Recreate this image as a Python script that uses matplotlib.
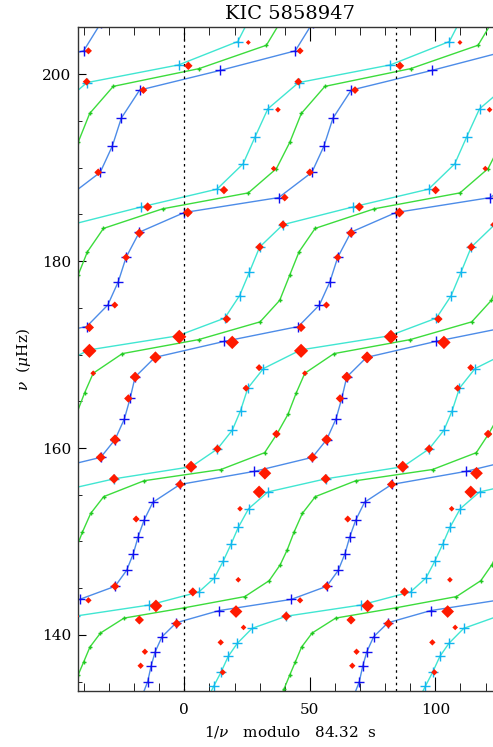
import numpy as np
import matplotlib
matplotlib.use("Agg")
from matplotlib import pyplot as plt
from matplotlib.ticker import MultipleLocator

period = 84.32

# model mode sequences: frequency (muHz) and 1/nu modulo period (s)
nu_blue = [133.4, 135.0, 136.7, 138.2, 139.8, 141.3, 142.6, 143.8, 145.2, 146.9,
           148.7, 150.5, 152.3, 154.2, 156.1, 157.5, 159.0, 160.9, 163.1, 165.3,
           167.6, 169.7, 171.4, 173.0, 175.3, 177.8, 180.4, 183.1, 185.2, 186.8,
           189.5, 192.3, 195.3, 198.3, 200.4, 202.5, 205.5]
x_blue = [-16.9, -14.6, -13.2, -11.6, -8.9, -3.2, 13.8, 42.6, -27.6, -23.0,
          -20.3, -18.4, -16.0, -12.5, -1.7, 27.9, -33.3, -27.6, -23.9, -21.6,
          -19.6, -11.7, 15.8, -38.9, -30.5, -26.3, -23.2, -17.9, 0.0, 37.6,
          -33.5, -28.7, -25.1, -17.8, 14.2, 44.2, -33.2]

nu_cyan = [133.0, 134.5, 136.0, 137.7, 139.1, 140.7, 142.0, 143.2, 144.6, 146.1,
           147.9, 149.7, 151.5, 153.5, 155.3, 156.7, 158.0, 159.9, 161.9, 164.0,
           166.4, 168.5, 170.5, 172.0, 173.9, 176.3, 178.8, 181.5, 183.9, 185.8,
           187.7, 190.4, 193.3, 196.3, 199.1, 201.0, 203.5, 205.6]
x_cyan = [8.9, 11.7, 14.6, 17.5, 21.1, 27.0, 40.6, -13.9, 5.8, 12.0,
          15.5, 18.6, 21.5, 25.6, 33.3, -28.0, 2.8, 13.2, 19.1, 22.4,
          25.3, 31.5, -37.9, -2.7, 16.1, 22.0, 25.9, 30.0, 39.3, -17.1,
          13.0, 23.4, 28.2, 33.3, -38.8, -2.2, 21.3, 25.3]

nu_green = [132.6, 134.2, 135.7, 137.1, 138.7, 140.2, 141.8, 142.9, 144.1, 145.8,
            147.5, 149.1, 151.0, 153.0, 154.8, 156.5, 157.7, 159.5, 161.5, 163.6,
            165.9, 168.0, 170.1, 171.6, 173.5, 175.8, 178.5, 181.0, 183.5, 185.6,
            187.3, 189.9, 192.7, 195.8, 198.7, 200.6, 203.1, 205.6]
x_green = [37.0, 39.7, 42.0, -40.1, -37.6, -33.4, -24.0, 0.0, 24.1, 33.8,
           38.2, 41.0, -40.6, -37.3, -32.1, -16.0, 14.6, 32.0, 36.9, 41.3,
           44.6, -36.3, -24.7, 5.7, 30.2, 38.0, 42.0, -38.6, -32.2, -8.6,
           25.5, 36.7, 42.0, -37.7, -28.3, 5.9, 32.7, 38.3]

# observed modes
nu_obs = [202.5, 203.4, 200.9, 199.2, 198.3, 196.2, 189.9, 189.5, 187.6, 186.8,
          185.8, 185.2, 183.9, 183.0, 181.5, 180.4, 175.3, 173.8, 172.9, 171.9,
          171.3, 170.4, 169.7, 168.6, 168.0, 167.6, 166.4, 165.3, 161.5, 160.9,
          159.9, 159.0, 158.0, 157.3, 156.7, 156.1, 155.3, 153.5, 152.4, 145.9,
          145.2, 144.6, 143.7, 143.1, 142.5, 142.0, 141.6, 141.2, 140.8, 139.2,
          138.2, 136.7, 136.0]
x_obs = [-38.2, 25.5, 1.6, -38.9, -16.3, 37.3, 35.6, -34.3, 15.8, 40.0,
         -14.6, 1.4, 39.3, -17.9, 30.0, -23.2, -27.7, 16.9, -37.8, -2.0,
         19.1, -37.8, -11.5, 29.8, -36.3, -19.6, 24.6, -22.3, 36.7, -27.6,
         13.2, -33.3, 2.7, 32.1, -28.0, -1.7, 29.8, 22.2, -19.2, 21.5,
         -27.6, 3.4, -38.2, -11.3, 20.6, 40.6, -17.9, -3.0, 23.6, 14.5,
         -15.7, -17.4, 15.3]
amp_obs = [5, 3.5, 6, 5.5, 5.5, 4, 4, 5.5, 6, 5.5,
           6.5, 7, 6, 6.5, 6, 5.5, 5, 6, 6.5, 10,
           9.5, 10, 8.5, 5, 4, 7.5, 5, 6, 6, 7.5,
           6, 7, 8.5, 9, 7, 6.5, 9, 4, 5, 4,
           6, 6.5, 4.5, 9, 9, 6.5, 6.5, 6.5, 4, 4.5,
           4.5, 4.5, 4.5]


def unwrap(x):
    # make the sequence continuous across the modulo edges
    out = [x[0]]
    for i in range(1, len(x)):
        out.append(out[-1] + (x[i] - x[i - 1]) % period)
    return np.array(out)


plt.rcParams['font.family'] = 'DejaVu Serif'
plt.rcParams['mathtext.fontset'] = 'dejavuserif'

fig = plt.figure(figsize=(4.93, 7.47), dpi=100)
ax = fig.add_axes([0.1592, 0.0750, 0.8586, 0.8882])

series = [
    (nu_green, x_green, '#3cdc3c', '#22c822', 3),
    (nu_cyan, x_cyan, '#40e6d2', '#12b4f0', 6.5),
    (nu_blue, x_blue, '#4d8ce8', '#1010f0', 6.5),
]
for nu, x, line_col, mark_col, ms in series:
    xu = unwrap(x)
    for k in range(-7, 4):
        ax.plot(xu + k * period, nu, '-', color=line_col, lw=1.0)
        ax.plot(xu + k * period, nu, '+', color=mark_col, ms=ms, mew=1)

sizes = (0.72 * np.array(amp_obs)) ** 2
for k in (-1, 0, 1):
    ax.scatter(np.array(x_obs) + k * period, nu_obs, s=sizes, marker='D',
               color='#ff1a00', linewidths=0, zorder=5)

ax.axvline(0, color='k', ls=(0, (2, 3)), lw=0.9)
ax.axvline(period, color='k', ls=(0, (2, 3)), lw=0.9)

ax.set_xlim(-period / 2, 1.5 * period)
ax.set_ylim(134, 205)
ax.xaxis.set_major_locator(MultipleLocator(50))
ax.xaxis.set_minor_locator(MultipleLocator(10))
ax.yaxis.set_major_locator(MultipleLocator(20))
ax.yaxis.set_minor_locator(MultipleLocator(5))
ax.tick_params(which='both', direction='in', top=True, right=True, labelsize=11)
ax.tick_params(axis='x', which='major', length=10, pad=9)
ax.tick_params(axis='x', which='minor', length=5.5)
ax.tick_params(axis='y', which='major', length=6, pad=5)
ax.tick_params(axis='y', which='minor', length=3)
for sp in ax.spines.values():
    sp.set_color('#333333')
    sp.set_linewidth(1)

ax.set_title('KIC 5858947', fontsize=14, pad=6)
ax.set_xlabel(r'$1/\nu$   modulo   84.32  s', fontsize=11, labelpad=5)
ax.set_ylabel(r'$\nu$  ($\mu$Hz)', fontsize=11, labelpad=7)

fig.savefig('out.png', dpi=100)
